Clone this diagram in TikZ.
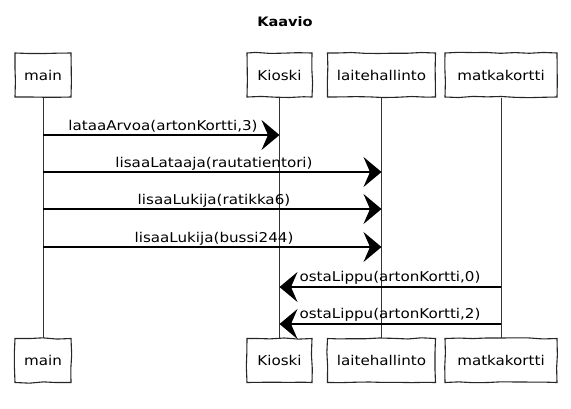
\documentclass[tikz,border=0pt]{standalone}
\usepackage{fontspec}
\setmainfont[FakeStretch=1.12]{DejaVu Sans}
\usetikzlibrary{arrows.meta,decorations.pathmorphing}
\begin{document}
\begin{tikzpicture}[x=1pt,y=-1pt,
  font=\fontsize{13.5}{15}\selectfont,
  sketchy/.style={decorate,decoration={random steps,segment length=14pt,amplitude=0.7pt}},
  actor/.style={draw=black!85,line width=1.1pt,sketchy,fill=white,inner sep=0pt,
    minimum height=44pt,text=black},
  life/.style={draw=black!80,line width=0.8pt},
  msg/.style={draw=black,line width=1.2pt,-{Stealth[length=18pt,width=30pt,inset=6.5pt]}},
  lbl/.style={anchor=base,text=black}]
\pgfmathsetseed{11}
\useasboundingbox (0,0) rectangle (571,408);
\node[font=\fontsize{13}{15}\selectfont\bfseries] (title) at (285,22) {Kaavio};
% top row
\node[actor,minimum width=56pt] (mainT) at (43,75) {main};
\node[actor,minimum width=65pt] (kioskiT) at (279.5,75) {Kioski};
\node[actor,minimum width=108pt] (laiteT) at (381.5,75) {laitehallinto};
\node[actor,minimum width=112pt] (korttiT) at (501,75) {matkakortti};
% bottom row
\node[actor,minimum width=56pt] (mainB) at (43,360.5) {main};
\node[actor,minimum width=65pt] (kioskiB) at (279.5,360.5) {Kioski};
\node[actor,minimum width=108pt] (laiteB) at (381.5,360.5) {laitehallinto};
\node[actor,minimum width=112pt] (korttiB) at (501,360.5) {matkakortti};
% lifelines
\draw[life] (mainT) -- (mainB);
\draw[life] (kioskiT) -- (kioskiB);
\draw[life] (laiteT) -- (laiteB);
\draw[life] (korttiT) -- (korttiB);
% message levels
\coordinate (y1) at (0,135);
\coordinate (y2) at (0,172);
\coordinate (y3) at (0,209);
\coordinate (y4) at (0,247);
\coordinate (y5) at (0,287);
\coordinate (y6) at (0,324);
\draw[msg] (mainT |- y1) -- (kioskiT |- y1);
\draw[msg] (mainT |- y2) -- (laiteT |- y2);
\draw[msg] (mainT |- y3) -- (laiteT |- y3);
\draw[msg] (mainT |- y4) -- (laiteT |- y4);
\draw[msg] (korttiT |- y5) -- (kioskiT |- y5);
\draw[msg] (korttiT |- y6) -- (kioskiT |- y6);
% labels
\node[lbl] (l1) at (163,130) {lataaArvoa(artonKortti,3)};
\node[lbl] (l2) at (214,167) {lisaaLataaja(rautatientori)};
\node[lbl] (l3) at (214,204) {lisaaLukija(ratikka6)};
\node[lbl] (l4) at (214,242) {lisaaLukija(bussi244)};
\node[lbl] (l5) at (390,281) {ostaLippu(artonKortti,0)};
\node[lbl] (l6) at (390,318) {ostaLippu(artonKortti,2)};
\end{tikzpicture}
\end{document}
